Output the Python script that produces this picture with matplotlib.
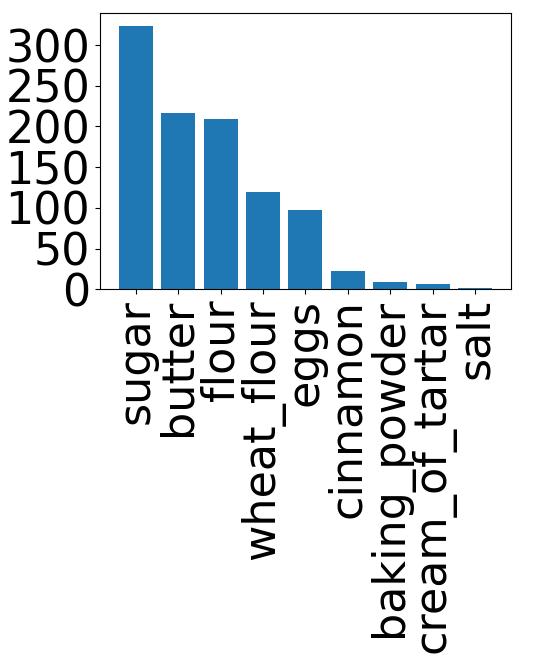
import matplotlib
matplotlib.use("Agg")
import matplotlib.pyplot as plt

ingredients = ["sugar", "butter", "flour", "wheat_flour", "eggs", "cinnamon",
               "baking_powder", "cream_of_tartar", "salt"]
counts = [323, 216, 209, 120, 97, 23, 9, 6, 2]

fig = plt.figure(figsize=(5.41, 6.6), dpi=100)
ax = fig.add_axes([0.185, 0.5617, 0.759, 0.4183])
ax.bar(ingredients, counts, color="#1f77b4")
ax.tick_params(axis="both", labelsize=32)
ax.tick_params(axis="x", rotation=90)
ax.set_yticks([0, 50, 100, 150, 200, 250, 300])
fig.savefig("out.png", dpi=100)
